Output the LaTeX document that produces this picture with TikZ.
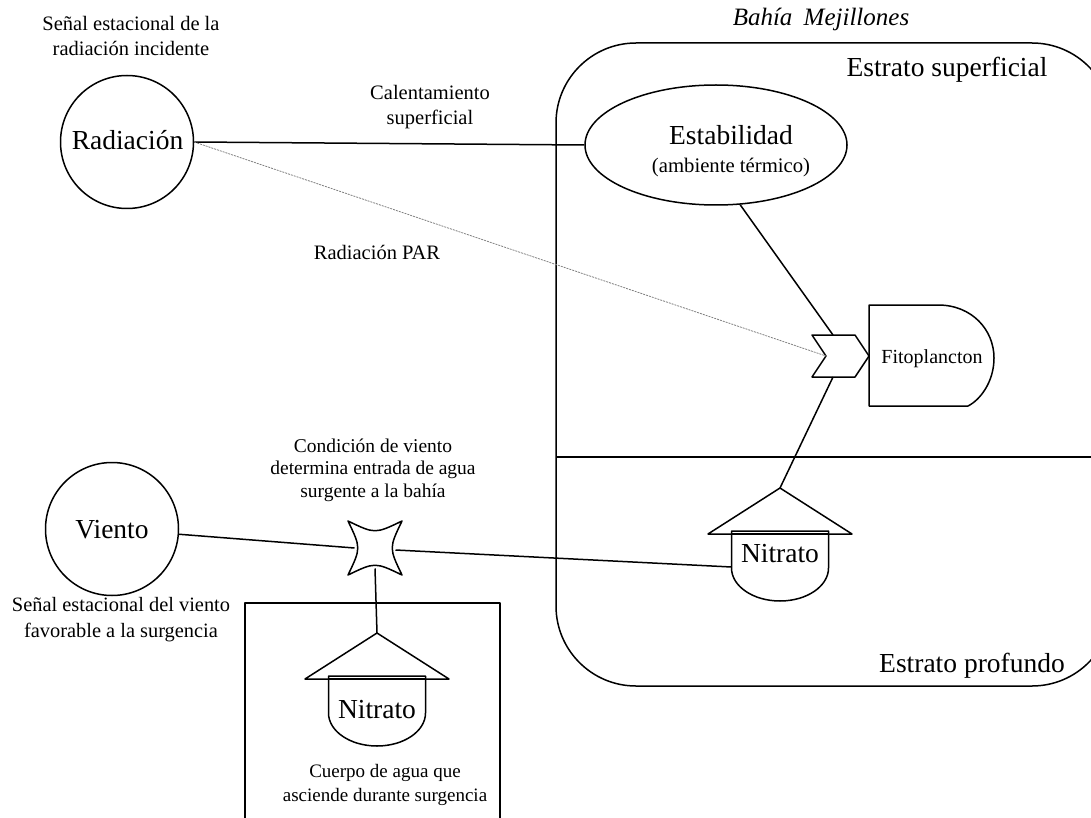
\documentclass[tikz,border=0pt]{standalone}
\usepackage{fontspec}
\setmainfont{Liberation Serif}
\usetikzlibrary{shapes.geometric}
\begin{document}
\begin{tikzpicture}[x=1pt,y=-1pt,
  ln/.style={line width=1.5pt, line join=round},
  thin line/.style={line width=0.8pt, gray, dash pattern=on 2pt off 1pt},
  bigtxt/.style={font=\fontsize{27.5}{30}\selectfont, inner sep=0pt},
  smtxt/.style={font=\fontsize{20.5}{25.5}\selectfont, align=center, inner sep=0pt},
  src/.style={circle, draw, line width=1.5pt, minimum size=133pt, inner sep=0pt},
  tankpic/.pic={
    \draw[ln] (0,0) -- (-72,46) -- (72,46) -- cycle;
    \draw[ln, fill=white] (-48.5,43) -- (-48.5,80) arc[start angle=180, end angle=0, x radius=48.5, y radius=33] -- (48.5,43) -- cycle;
    \draw[line width=1.2pt] (-48.5,46) -- (48.5,46);
  }]
\useasboundingbox (0,0) rectangle (1091,818);
\clip (0,0) rectangle (1091,818);

% big basin
\draw[ln, rounded corners=80pt] (556,43) rectangle (1112,686);
\draw[ln] (556,457) -- (1112,457);
\node[font=\itshape\fontsize{25}{28}\selectfont, anchor=base, inner sep=0pt] (bahia) at (821,26) {Bahía\hspace{0.45em}Mejillones};
\node[bigtxt, anchor=base] (esup) at (947,77) {Estrato superficial};
\node[bigtxt, anchor=base] (eprof) at (972,672) {Estrato profundo};

% sources
\node[src] (rad) at (127,142) {};
\node[bigtxt, anchor=base] (radt) at (127.5,150) {Radiación};
\node[smtxt] (radlab) at (131,36) {Señal estacional de la\\radiación incidente};
\node[src] (vien) at (112,529) {};
\node[bigtxt, anchor=base] (vient) at (112,538) {Viento};
\node[smtxt, font=\fontsize{20.4}{26}\selectfont] (vienlab) at (121,620) {Señal estacional del viento\\favorable a la surgencia};

% stability ellipse
\node[ellipse, draw, line width=1.5pt, minimum width=262pt, minimum height=120pt, inner sep=0pt] (estab) at (716,145) {};
\node[bigtxt, anchor=base] (estabt) at (731,145) {Estabilidad};
\node[font=\fontsize{20.7}{24}\selectfont, anchor=base, inner sep=0pt] (estabs) at (731,173) {(ambiente térmico)};

% interaction and producer
\draw[ln, fill=white] (812,335) -- (855,335) -- (869,356) -- (855,377) -- (812,377) -- (826,356) -- cycle;
\coordinate (notch) at (826,356);
\coordinate (chevtop) at (833,335);
\coordinate (chevbot) at (833,377);
\draw[ln] (869,406) -- (869,305) -- (938,305) .. controls (972,305) and (994,330) .. (994,358) .. controls (994,382) and (980,400) .. (968,406) -- cycle;
\node[font=\fontsize{20}{24}\selectfont, anchor=base, inner sep=0pt] (fito) at (932,363) {Fitoplancton};

% switch
\draw[ln, fill=white] (348,521) .. controls (375,534) .. (402,521) .. controls (389,548) .. (402,575) .. controls (375,562) .. (348,575) .. controls (361,548) .. (348,521) -- cycle;
\coordinate (swL) at (354.5,548);
\coordinate (swR) at (395.5,550);
\coordinate (swB) at (375,568.5);
\node[smtxt, font=\fontsize{19.5}{22.5}\selectfont] (condlab) at (373,470) {Condición de viento\\determina entrada de agua\\surgente a la bahía};

% storages
\pic at (780,488) {tankpic};
\coordinate (tank1apex) at (780,488);
\coordinate (tank1L) at (731.5,567);
\node[bigtxt, anchor=base] (nit1) at (780,562) {Nitrato};

\draw[ln] (245,603) rectangle (500,840);
\pic at (377,633) {tankpic};
\coordinate (tank2apex) at (377,633);
\node[bigtxt, anchor=base] (nit2) at (377,718) {Nitrato};
\node[smtxt, font=\fontsize{19}{24}\selectfont] (cuerpo) at (385,785) {Cuerpo de agua que\\asciende durante surgencia};

% connectors
\draw[ln] (rad.east) -- (estab.west);
\node[smtxt] (calab) at (430,107) {Calentamiento\\superficial};
\draw[thin line] (rad.east) -- (notch);
\node[smtxt, anchor=base] (parlab) at (377,259) {Radiación PAR};
\draw[ln] (estab.-68) -- (chevtop);
\draw[ln] (chevbot) -- (tank1apex);
\draw[ln] (vien) -- (swL);
\draw[ln] (swR) -- (tank1L);
\draw[ln] (swB) -- (tank2apex);
\end{tikzpicture}
\end{document}
